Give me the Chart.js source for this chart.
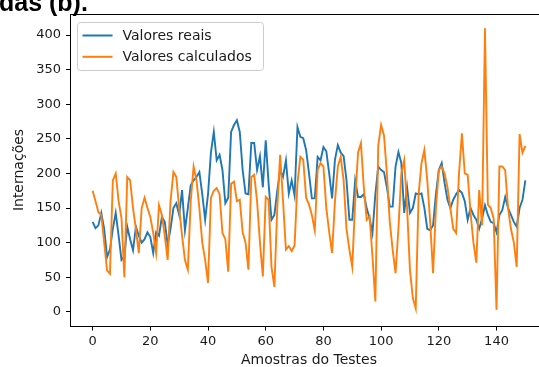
<!DOCTYPE html>
<html>
<head>
<meta charset="utf-8">
<script src="https://cdn.jsdelivr.net/npm/chart.js@4.4.0/dist/chart.umd.min.js"></script>
<style>
html,body{margin:0;padding:0;overflow:hidden;background:#fff;width:539px;height:367px;}
#wrap{position:absolute;left:0;top:0;width:552px;height:375px;}
#cap{position:absolute;left:-1px;top:-10px;font:bold 25px/25px "Liberation Sans",Arial,sans-serif;color:#000;white-space:nowrap;z-index:2;}
</style>
</head>
<body>
<div id="cap">das (b).</div>
<div id="wrap"><canvas id="c" width="552" height="375"></canvas></div>
<script>
// ---- data ----
const seriesNames = ["Valores reais", "Valores calculados"];
const realValues = [
130,121,125,143,120,79,90,120,143,110,
75,80,123,105,89,123,110,100,105,115,
108,85,115,110,137,130,97,120,150,157,
140,176,118,150,183,190,195,202,170,133,
170,230,260,219,227,205,157,165,260,270,
277,260,205,171,170,244,244,205,225,180,
248,185,133,140,175,205,195,219,171,190,
168,267,253,251,234,200,164,164,224,219,
238,232,200,164,220,241,230,225,190,133,
133,190,166,166,170,150,135,114,170,210,
205,202,180,152,152,210,231,215,143,180,
143,150,171,170,171,150,120,118,125,170,
205,215,186,162,150,162,170,176,172,160,
133,150,140,133,120,135,154,140,130,128,
115,140,147,166,150,140,130,123,150,162,190
];
const calcValues = [
175,160,144,140,100,60,55,190,200,160,
135,50,195,190,150,120,85,150,165,150,
137,114,85,154,140,110,75,160,202,195,
150,110,75,61,160,210,190,150,100,75,
42,165,175,179,170,114,105,58,185,188,
160,162,115,100,61,195,198,160,100,51,
166,162,65,36,150,227,160,90,95,88,
96,186,224,220,165,155,140,118,205,215,
210,150,115,85,160,210,224,190,120,90,
65,160,230,244,180,133,138,80,15,240,
270,255,200,130,90,56,120,200,219,150,
60,20,5,170,215,234,190,130,56,150,
205,210,200,180,150,120,114,200,258,200,
198,143,100,71,176,125,410,155,150,135,
3,210,210,205,150,120,100,65,257,230,240
];
const xTicks = [0,20,40,60,80,100,120,140];
const yTicks = [0,50,100,150,200,250,300,350,400];
const xTitle = "Amostras do Testes";
const yTitle = "Internações";

// ---- chart ----
const toPts = arr => arr.map((v,i)=>({x:i,y:v}));
const FONT = "DejaVu Sans";
const TXT = "#1a1a1a";

const frameLegend = {
  id:'frameLegend',
  afterDraw(chart){
    const {ctx, chartArea:a} = chart;
    ctx.save();
    ctx.strokeStyle = '#000'; ctx.lineWidth = 1;
    ctx.strokeRect(Math.round(a.left)-0.5, Math.round(a.top)+0.5, Math.round(a.right-a.left)+1, Math.round(a.bottom-a.top));
    // legend box
    const bx = a.left + 6.5, by = a.top + 8.5, bw = 186, bh = 48, r = 3;
    ctx.beginPath();
    ctx.moveTo(bx+r,by); ctx.lineTo(bx+bw-r,by); ctx.quadraticCurveTo(bx+bw,by,bx+bw,by+r);
    ctx.lineTo(bx+bw,by+bh-r); ctx.quadraticCurveTo(bx+bw,by+bh,bx+bw-r,by+bh);
    ctx.lineTo(bx+r,by+bh); ctx.quadraticCurveTo(bx,by+bh,bx,by+bh-r);
    ctx.lineTo(bx,by+r); ctx.quadraticCurveTo(bx,by,bx+r,by); ctx.closePath();
    ctx.fillStyle = 'rgba(255,255,255,0.8)'; ctx.fill();
    ctx.strokeStyle = '#cccccc'; ctx.stroke();
    ctx.font = '14px "'+FONT+'"';
    ctx.textBaseline = 'middle';
    chart.data.datasets.forEach((ds,k)=>{
      const y = by + 13 + k*21.3;
      ctx.strokeStyle = ds.borderColor; ctx.lineWidth = 2;
      ctx.beginPath(); ctx.moveTo(bx+5, y); ctx.lineTo(bx+35, y); ctx.stroke();
      ctx.fillStyle = TXT;
      ctx.fillText(ds.label, bx+45, y+0.5);
    });
    ctx.restore();
  }
};

new Chart(document.getElementById('c'), {
  type:'line',
  data:{
    datasets:[
      {label:seriesNames[0], data:toPts(realValues), borderColor:'#1f77b4', borderWidth:1.9, pointRadius:0, tension:0, order:2, fill:false},
      {label:seriesNames[1], data:toPts(calcValues), borderColor:'#ff7f0e', borderWidth:1.9, pointRadius:0, tension:0, order:1, fill:false}
    ]
  },
  options:{
    responsive:false, animation:false, devicePixelRatio:1,
    layout:{padding:{top:14,right:5,left:0,bottom:0}},
    plugins:{legend:{display:false}, tooltip:{enabled:false}, title:{display:false}},
    scales:{
      x:{
        type:'linear', min:-7.5, max:157.5,
        afterBuildTicks:s=>{ s.ticks = xTicks.map(v=>({value:v})); },
        afterFit:s=>{ s.height = 49; },
        ticks:{font:{family:FONT,size:13}, color:TXT, padding:3, maxRotation:0, autoSkip:false},
        grid:{drawOnChartArea:false, drawTicks:true, tickLength:4.5, color:'#000', lineWidth:1},
        border:{display:false},
        title:{display:true, text:xTitle, font:{family:FONT,size:14}, color:TXT, padding:{top:0,bottom:6}}
      },
      y:{
        type:'linear', min:-20.5, max:430.5,
        afterBuildTicks:s=>{ s.ticks = yTicks.map(v=>({value:v})); },
        afterFit:s=>{ s.width = 71; },
        ticks:{font:{family:FONT,size:13}, color:TXT, padding:5, autoSkip:false},
        grid:{drawOnChartArea:false, drawTicks:true, tickLength:5, color:'#000', lineWidth:1},
        border:{display:false},
        title:{display:true, text:yTitle, font:{family:FONT,size:14}, color:TXT, padding:{top:11,bottom:0}}
      }
    }
  },
  plugins:[frameLegend]
});
</script>
</body>
</html>
